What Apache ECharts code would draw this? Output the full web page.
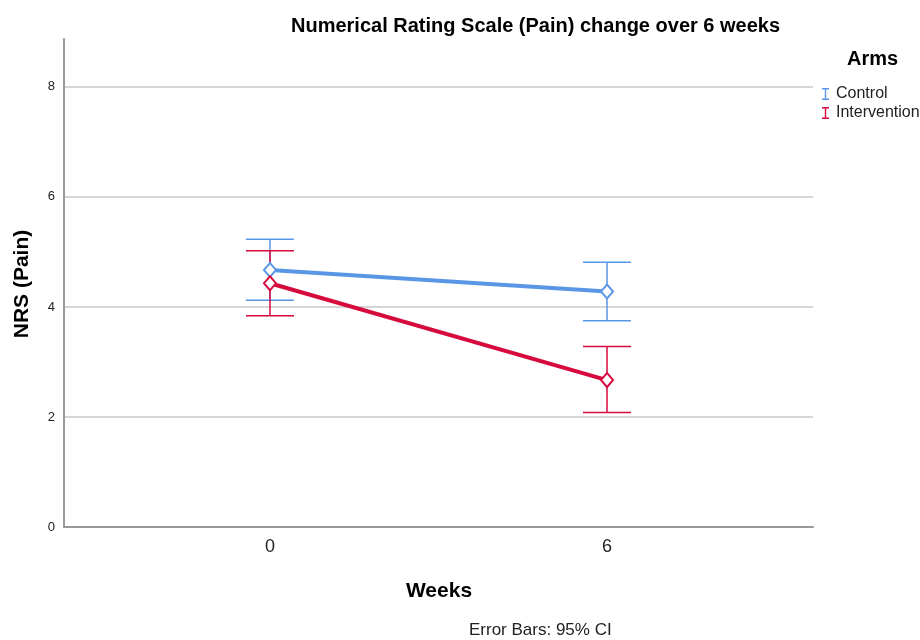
<!DOCTYPE html>
<html>
<head>
<meta charset="utf-8">
<script src="https://cdn.jsdelivr.net/npm/echarts@6/dist/echarts.min.js"></script>
<style>
  html, body { margin: 0; padding: 0; background: #fff; }
  #chart { width: 920px; height: 640px; }
</style>
</head>
<body>
<div id="chart"></div>
<script>
// Weeks at which pain was measured
const weeks = [0, 6];
const arms = ['Control', 'Intervention'];

// Mean NRS (Pain) per arm
const controlMean = [4.67, 4.28];
const interventionMean = [4.43, 2.67];

// 95% confidence interval bounds
const controlLow = [4.12, 3.75];
const controlHigh = [5.23, 4.81];
const interventionLow = [3.84, 2.08];
const interventionHigh = [5.02, 3.28];

const yTicks = [0, 2, 4, 6, 8];

const colors = { Control: '#5a96e6', Intervention: '#d60a3d' };
const FONT = 'Liberation Sans, Arial, sans-serif';

function lineData(means) {
  return weeks.map((w, i) => [w, means[i]]);
}
function ciData(low, high) {
  return weeks.map((w, i) => [w, low[i], high[i]]);
}

// Vertical CI whisker with horizontal caps at both ends
function errorBarSeries(name, low, high) {
  const color = colors[name];
  return {
    name: name,
    type: 'custom',
    z: 3,
    data: ciData(low, high),
    encode: { x: 0, y: [1, 2] },
    renderItem: function (params, api) {
      const top = api.coord([api.value(0), api.value(2)]);
      const bot = api.coord([api.value(0), api.value(1)]);
      const half = 24;
      const style = { stroke: color, lineWidth: 1.5 };
      return {
        type: 'group',
        children: [
          { type: 'line', shape: { x1: top[0], y1: top[1], x2: bot[0], y2: bot[1] }, style: style },
          { type: 'line', shape: { x1: top[0] - half, y1: top[1], x2: top[0] + half, y2: top[1] }, style: style },
          { type: 'line', shape: { x1: bot[0] - half, y1: bot[1], x2: bot[0] + half, y2: bot[1] }, style: style }
        ]
      };
    }
  };
}

function meanSeries(name, means) {
  const color = colors[name];
  return {
    name: name,
    type: 'line',
    z: 4,
    data: lineData(means),
    symbol: 'diamond',
    symbolSize: [12, 14],
    lineStyle: { color: color, width: 4 },
    itemStyle: { color: '#fff', borderColor: color, borderWidth: 2 },
    emphasis: { disabled: true }
  };
}

const iBeam = 'path://M0,0H7V1.5H4.2V10.5H7V12H0V10.5H2.8V1.5H0Z';

const chart = echarts.init(document.getElementById('chart'), null, { renderer: 'canvas' });
chart.setOption({
  animation: false,
  backgroundColor: '#fff',
  textStyle: { fontFamily: FONT },
  title: [
    {
      text: 'Numerical Rating Scale (Pain) change over 6 weeks',
      left: 286, top: 11,
      textStyle: { fontFamily: FONT, fontSize: 20, fontWeight: 'bold', color: '#000' }
    },
    {
      text: 'Arms',
      left: 842, top: 44,
      textStyle: { fontFamily: FONT, fontSize: 20, fontWeight: 'bold', color: '#000' }
    }
  ],
  legend: {
    data: arms.map(a => ({ name: a, icon: iBeam, itemStyle: { color: colors[a] } })),
    orient: 'vertical',
    left: 817, top: 81,
    itemWidth: 7, itemHeight: 13,
    itemGap: 3,
    textStyle: { fontFamily: FONT, fontSize: 16, color: '#222', padding: [0, 0, 0, 2] }
  },
  grid: { left: 64, right: 107, top: 39, bottom: 113, containLabel: false },
  xAxis: {
    type: 'value',
    min: -11 / 3,
    max: 29 / 3,
    splitLine: { show: false },
    axisTick: { show: false },
    axisLine: { onZero: false, lineStyle: { color: '#9a9a9a', width: 2 } },
    axisLabel: {
      customValues: weeks,
      fontSize: 18, color: '#222', margin: 11,
      fontFamily: FONT
    }
  },
  yAxis: {
    type: 'value',
    min: 0,
    max: 8.87,
    interval: 2,
    axisLine: { show: true, onZero: false, lineStyle: { color: '#9a9a9a', width: 2 } },
    axisTick: { show: false },
    axisLabel: {
      customValues: yTicks,
      fontSize: 13, color: '#222', margin: 9, fontFamily: FONT
    },
    splitLine: { show: true, showMinLine: false, showMaxLine: false, lineStyle: { color: '#c8c8c8', width: 1.5 } }
  },
  graphic: [
    {
      type: 'text',
      x: 22, y: 284,
      rotation: Math.PI / 2,
      style: {
        text: 'NRS (Pain)', fontFamily: FONT, fontSize: 21, fontWeight: 'bold',
        fill: '#000', align: 'center', verticalAlign: 'middle'
      }
    },
    {
      type: 'text',
      x: 439, y: 591,
      style: {
        text: 'Weeks', fontFamily: FONT, fontSize: 21, fontWeight: 'bold',
        fill: '#000', align: 'center', verticalAlign: 'middle'
      }
    },
    {
      type: 'text',
      x: 469, y: 630,
      style: {
        text: 'Error Bars: 95% CI', fontFamily: FONT, fontSize: 17,
        fill: '#222', align: 'left', verticalAlign: 'middle'
      }
    }
  ],
  series: [
    errorBarSeries('Control', controlLow, controlHigh),
    meanSeries('Control', controlMean),
    errorBarSeries('Intervention', interventionLow, interventionHigh),
    meanSeries('Intervention', interventionMean)
  ]
});
</script>
</body>
</html>
